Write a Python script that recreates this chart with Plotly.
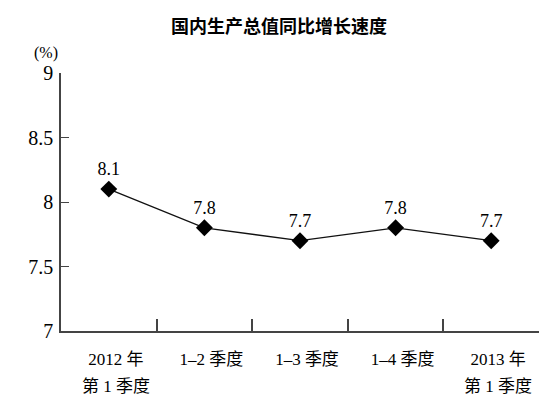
import plotly.graph_objects as go

categories = ["2012 年", "1–2 季度", "1–3 季度", "1–4 季度", "2013 年"]
sub_labels = ["第 1 季度", "", "", "", "第 1 季度"]
values = [8.1, 7.8, 7.7, 7.8, 7.7]
value_labels = ["8.1", "7.8", "7.7", "7.8", "7.7"]
y_ticks = [7, 7.5, 8, 8.5, 9]
y_tick_labels = ["7", "7.5", "8", "8.5", "9"]

serif = "Liberation Serif, Noto Sans CJK SC, serif"
axis_col = "#444444"

fig = go.Figure()
fig.add_trace(go.Scatter(
    x=categories, y=values, mode="lines+markers+text",
    text=value_labels, textposition="top center",
    textfont=dict(family=serif, size=18, color="black"),
    line=dict(color="#111111", width=1.3),
    marker=dict(symbol="diamond", size=13, color="black"),
    cliponaxis=False, showlegend=False,
))

fig.update_layout(
    width=548, height=397,
    margin=dict(l=53, r=17, t=65, b=74),
    paper_bgcolor="white", plot_bgcolor="white",
    font=dict(family=serif, color="black"),
    title=dict(text="<b>国内生产总值同比增长速度</b>", x=0.4945, xanchor="center",
               y=0.952, yanchor="middle",
               font=dict(family="Noto Sans CJK SC", size=18, color="black")),
)
fig.update_xaxes(
    type="category", showline=True, linecolor=axis_col, linewidth=1.5,
    tickson="boundaries", ticks="inside", ticklen=12, tickcolor=axis_col, tickwidth=1.5,
    showgrid=False, tickfont=dict(family=serif, size=17, color="black"),
    ticklabelstandoff=12, ticklabelshift=7,
    range=[-0.5, 4.5],
)
fig.update_yaxes(
    range=[7, 9], tickvals=y_ticks, ticktext=y_tick_labels,
    showline=True, linecolor=axis_col, linewidth=1.5,
    ticks="inside", ticklen=8, tickcolor=axis_col, tickwidth=1.2,
    showgrid=False, zeroline=False, tickfont=dict(family=serif, size=20, color="black"),
    ticklabelstandoff=2,
)
for cat, sub in zip(categories, sub_labels):
    if sub:
        fig.add_annotation(text=sub, x=cat, xref="x", y=0, yref="paper",
                           xanchor="center", yanchor="middle", yshift=-55, xshift=7,
                           showarrow=False,
                           font=dict(family=serif, size=17, color="black"))
fig.add_annotation(text="(%)", xref="paper", yref="paper", x=(38 - 53) / 478, y=1.0,
                   xanchor="center", yanchor="middle", yshift=20, showarrow=False,
                   font=dict(family=serif, size=16, color="black"))

fig.write_html("out.html")
